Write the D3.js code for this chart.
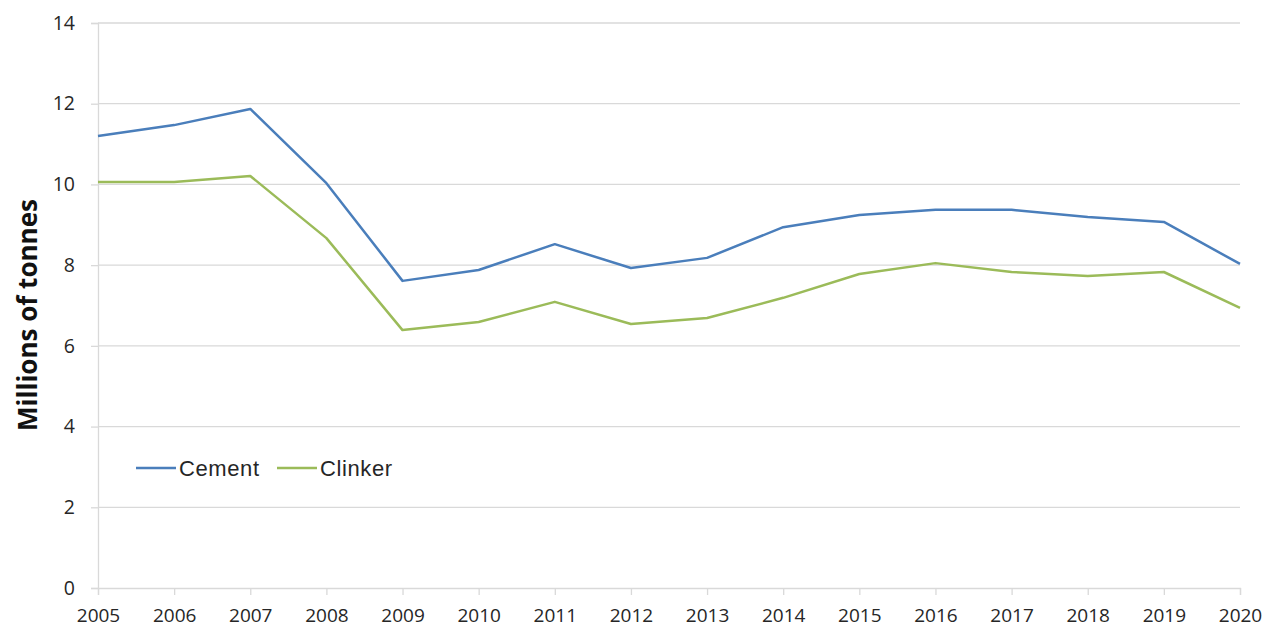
<!DOCTYPE html>
<html><head><meta charset="utf-8">
<script src="https://cdn.jsdelivr.net/npm/d3@7"></script>
<style>body{margin:0;background:#fff}svg{display:block}</style>
</head><body>
<svg id="c" width="1266" height="629"></svg>
<script>
const years = [2005,2006,2007,2008,2009,2010,2011,2012,2013,2014,2015,2016,2017,2018,2019,2020];
const cement = [11.2,11.47,11.87,10.03,7.61,7.88,8.52,7.93,8.18,8.94,9.24,9.37,9.37,9.19,9.07,8.03];
const clinker = [10.06,10.06,10.21,8.67,6.39,6.59,7.09,6.54,6.69,7.19,7.78,8.05,7.83,7.73,7.83,6.94];
const yTicks = [0,2,4,6,8,10,12,14];
const seriesNames = ["Cement","Clinker"];
const colors = ["#4a7ebb","#9bbb59"];

const svg = d3.select("#c");
const L=98, R=1240, T=23, B=588;
const x = d3.scaleLinear().domain([2005,2020]).range([L,R]);
const y = d3.scaleLinear().domain([0,14]).range([B,T]);
const tickFont = "'Open Sans', sans-serif";

// grid
svg.append("g").selectAll("line").data(yTicks.filter(d=>d>0)).join("line")
  .attr("x1",L).attr("x2",R).attr("y1",d=>y(d)).attr("y2",d=>y(d))
  .attr("stroke","#d9d9d9").attr("stroke-width",1.3);

// y axis
const ya = svg.append("g").attr("transform",`translate(${L},0)`)
  .call(d3.axisLeft(y).tickValues(yTicks).tickSize(7).tickPadding(16));
ya.select(".domain").attr("stroke","#d9d9d9").attr("stroke-width",1.3);
ya.selectAll(".tick line").attr("stroke","#d9d9d9").attr("stroke-width",1.3);
ya.selectAll("text").attr("font-family",tickFont).attr("font-size",19.5).attr("fill","#262626");

// x axis
const xa = svg.append("g").attr("transform",`translate(0,${B})`)
  .call(d3.axisBottom(x).tickValues(years).tickFormat(d3.format("d")).tickSize(7).tickPadding(14));
xa.select(".domain").attr("stroke","#d9d9d9").attr("stroke-width",1.3);
xa.selectAll(".tick line").attr("stroke","#d9d9d9").attr("stroke-width",1.3);
xa.selectAll("text").attr("font-family",tickFont).attr("font-size",19).attr("fill","#262626");

// lines
const line = d3.line().x((d,i)=>x(years[i])).y(d=>y(d));
[cement,clinker].forEach((s,k)=>{
  svg.append("path").datum(s).attr("d",line).attr("fill","none")
    .attr("stroke",colors[k]).attr("stroke-width",2.5).attr("stroke-linejoin","round");
});

// y title
svg.append("text").attr("transform","translate(37,315) rotate(-90)")
  .attr("text-anchor","middle").attr("font-family",tickFont)
  .attr("font-weight","bold").attr("font-size",26).attr("fill","#111").text("Millions of tonnes");

// legend
const lg = svg.append("g");
const lx=[136,277];
seriesNames.forEach((n,k)=>{
  lg.append("line").attr("x1",lx[k]).attr("x2",lx[k]+40).attr("y1",468).attr("y2",468)
    .attr("stroke",colors[k]).attr("stroke-width",2.5);
  lg.append("text").attr("x",lx[k]+43).attr("y",475.5).attr("font-family","'Liberation Sans', Arial, sans-serif")
    .attr("font-size",22).attr("letter-spacing",0.6).attr("fill","#262626").text(n);
});
</script>
</body></html>
